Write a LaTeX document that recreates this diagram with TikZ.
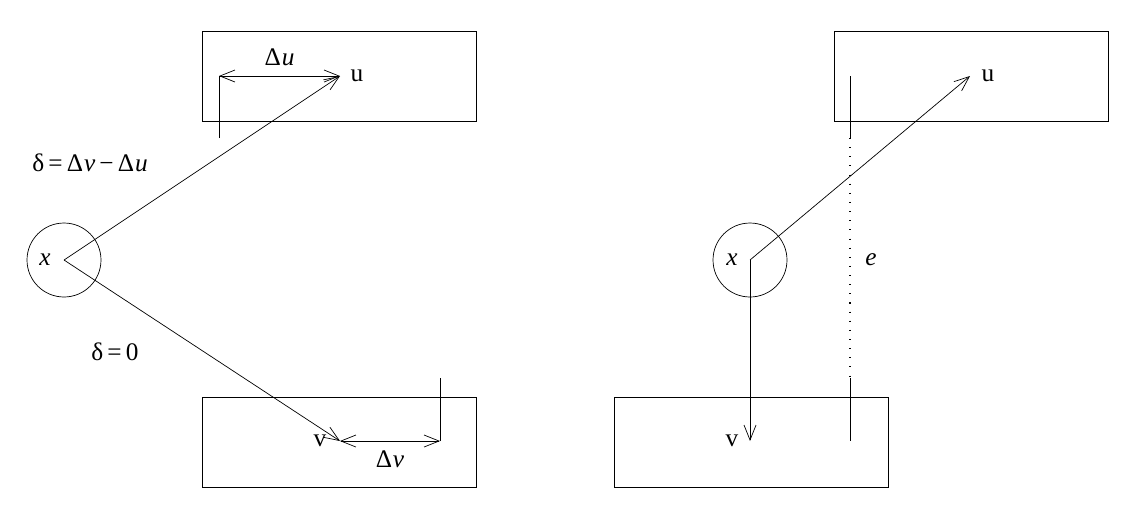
\documentclass[tikz,border=0pt]{standalone}
\usepackage{fontspec}
\setmainfont{Liberation Serif}
\usetikzlibrary{arrows.meta,positioning}
\newcommand{\dvar}[1]{Δ\kern0.5pt\textit{#1}}
\begin{document}
\begin{tikzpicture}[x=0.02cm,y=-0.02cm,>={Straight Barb[length=3mm,width=2.4mm]},
	box/.style={draw,minimum width=5.48cm,minimum height=1.8cm,anchor=north west,inner sep=0pt},
	vert/.style={draw,circle,minimum size=1.48cm,inner sep=0pt},
	lab/.style={font=\Large}]
		\useasboundingbox (0,0) rectangle (1138,508);
		% left part
		\node[box] (lu) at (202,31) {};
		\node[box] (lv) at (202,397) {};
		\node[vert] (lx) at (64,260) {};
		\node[lab] (lxl) at (45,260) {\textit{x}};
		\coordinate (lc) at (64,260);
		\coordinate (lpu) at (340,76);
		\coordinate (lpv) at (340,441);
		\node[lab] (lul) at (357,76) {u};
		\node[lab] (lvl) at (320,441) {v};
		\draw[->] (lc) -- (lpu);
		\draw[->] (lc) -- (lpv);
		\coordinate (du0) at (219,138);
		\coordinate (du1) at (219,76);
		\draw (du0) -- (du1);
		\draw[<->] (du1) -- node[above=2pt,lab] {\dvar{u}} (lpu);
		\coordinate (dv0) at (440,378);
		\coordinate (dv1) at (440,441);
		\draw (dv0) -- (dv1);
		\draw[<->] (lpv) -- node[below=2pt,lab] {\dvar{v}} (dv1);
		\node[lab] (d1) at (90,163) {δ\,=\,\dvar{v}\,−\,\dvar{u}};
		\node[lab] (d2) at (115,352) {δ\,=\,0};
		% right part
		\node[box] (ru) at (834,31) {};
		\node[box] (rv) at (614,397) {};
		\node[vert] (rx) at (750,260) {};
		\node[lab] (rxl) at (732,260) {\textit{x}};
		\coordinate (rc) at (750,260);
		\coordinate (rpu) at (970,76);
		\coordinate (rpv) at (750,441);
		\node[lab] (rul) at (988,76) {u};
		\node[lab] (rvl) at (732,441) {v};
		\draw[->] (rc) -- (rpu);
		\draw[->] (rc) -- (rpv);
		\coordinate (e0) at (850,76);
		\coordinate (e1) at (850,138);
		\coordinate (e2) at (850,378);
		\coordinate (e3) at (850,441);
		\draw (e0) -- (e1);
		\draw[thick,dash pattern=on 0.6pt off 4.6pt] (e1) -- (e2);
		\draw (e2) -- (e3);
		\node[lab] (el) at (871,260) {\textit{e}};
\end{tikzpicture}
\end{document}
